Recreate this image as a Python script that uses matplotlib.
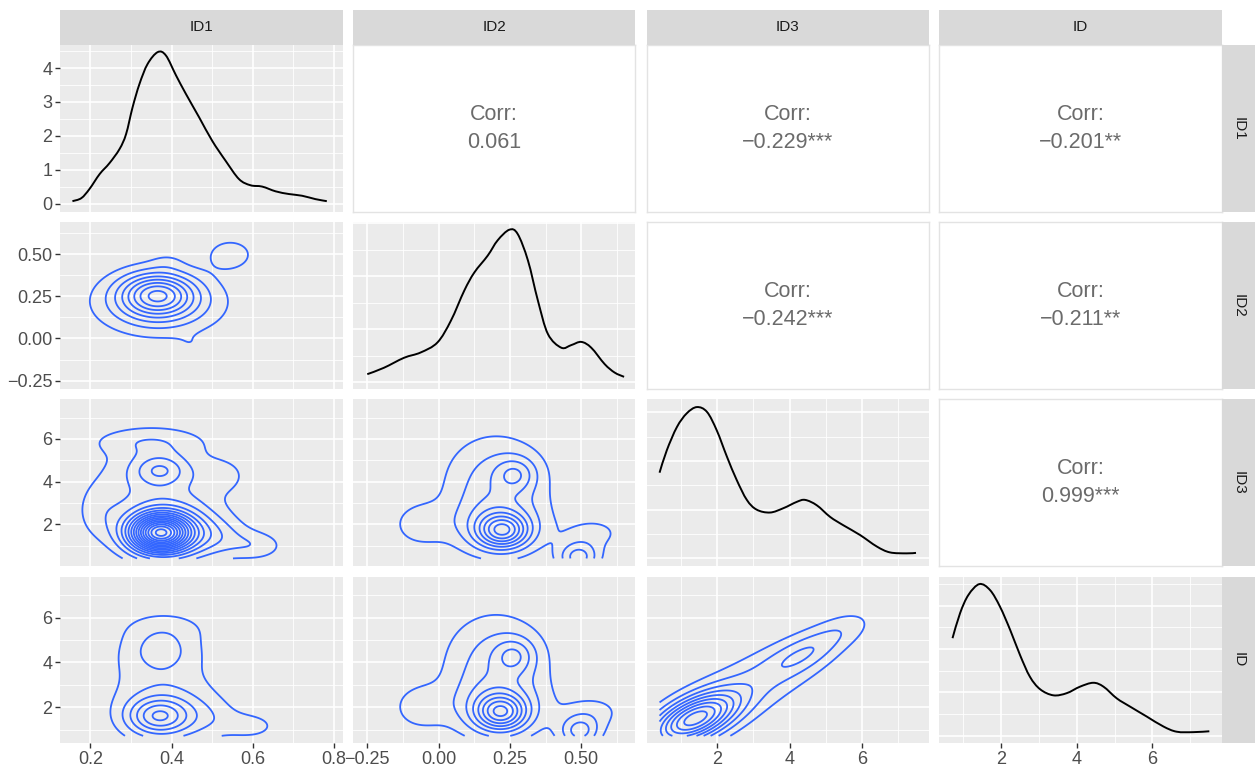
import numpy as np
import matplotlib
matplotlib.use("Agg")
import matplotlib.pyplot as plt
from matplotlib.path import Path
from matplotlib.patches import PathPatch

plt.rcParams['font.family'] = ['Liberation Sans', 'DejaVu Sans']

W, H = 1255, 772

# variables and their data ranges (axes get 5% expansion like ggplot)
names = ["ID1", "ID2", "ID3", "ID"]
data_ranges = [(0.157, 0.789), (-0.255, 0.645), (0.41, 7.50), (0.72, 7.49)]
major_breaks = [[0.2, 0.4, 0.6, 0.8], [-0.25, 0.0, 0.25, 0.5], [2, 4, 6], [2, 4, 6]]
break_labels = [["0.2", "0.4", "0.6", "0.8"], ["\u22120.25", "0.00", "0.25", "0.50"],
                ["2", "4", "6"], ["2", "4", "6"]]
minor_breaks = [[0.3, 0.5, 0.7], [-0.125, 0.125, 0.375, 0.625], [1, 3, 5, 7], [1, 3, 5, 7]]

# diagonal density curves
id1_dens_x = [0.156, 0.178, 0.198, 0.223, 0.247, 0.272, 0.288, 0.304, 0.321, 0.341, 0.366, 0.386,
              0.411, 0.435, 0.468, 0.500, 0.533, 0.566, 0.594, 0.623, 0.656, 0.689, 0.721, 0.754, 0.782]
id1_dens_y = [0.07, 0.16, 0.43, 0.87, 1.19, 1.61, 2.05, 2.84, 3.53, 4.12, 4.47, 4.37,
              3.78, 3.24, 2.54, 1.85, 1.26, 0.72, 0.54, 0.50, 0.36, 0.28, 0.23, 0.13, 0.07]
id2_dens_x = [-0.250, -0.192, -0.121, -0.063, -0.004, 0.043, 0.090, 0.125, 0.172, 0.207, 0.248,
              0.277, 0.313, 0.348, 0.383, 0.430, 0.465, 0.500, 0.535, 0.582, 0.617, 0.650]
id2_dens_y = [0.15, 0.27, 0.46, 0.56, 0.75, 1.16, 1.73, 2.07, 2.39, 2.68, 2.88,
              2.80, 2.30, 1.54, 0.91, 0.65, 0.70, 0.76, 0.65, 0.34, 0.18, 0.10]
id3_dens_x = [0.41, 0.61, 0.89, 1.16, 1.44, 1.72, 1.99, 2.27, 2.54, 2.82, 3.09, 3.46,
              3.83, 4.20, 4.43, 4.75, 5.12, 5.48, 5.94, 6.41, 6.77, 7.23, 7.49]
id3_dens_y = [0.176, 0.222, 0.270, 0.298, 0.311, 0.301, 0.263, 0.209, 0.161, 0.120, 0.100, 0.094,
              0.103, 0.116, 0.120, 0.109, 0.085, 0.068, 0.048, 0.024, 0.012, 0.010, 0.011]
id_dens_x = [0.73, 0.93, 1.15, 1.44, 1.72, 1.98, 2.25, 2.51, 2.77, 3.04, 3.39, 3.74,
             4.09, 4.44, 4.71, 5.06, 5.41, 5.85, 6.29, 6.64, 7.08, 7.50]
id_dens_y = [0.225, 0.283, 0.325, 0.350, 0.336, 0.298, 0.244, 0.186, 0.136, 0.107, 0.093, 0.098,
             0.113, 0.122, 0.113, 0.086, 0.067, 0.044, 0.021, 0.009, 0.008, 0.010]
diag_curves = [(id1_dens_x, id1_dens_y), (id2_dens_x, id2_dens_y),
               (id3_dens_x, id3_dens_y), (id_dens_x, id_dens_y)]
diag_ylims = [(-0.25, 4.67), (-0.13, 3.02), (-0.016, 0.327), (-0.018, 0.367)]
diag_step = [1, 1, 0.1, 0.1]

# correlation labels of the upper triangle
corr_text = {(0, 1): "0.061", (0, 2): "\u22120.229***", (0, 3): "\u22120.201**",
             (1, 2): "\u22120.242***", (1, 3): "\u22120.211**", (2, 3): "0.999***"}

# 2d density bumps seen in the lower panels: (x, y, sd_x, sd_y, rho, height)
# heights are in units of one contour step
bumps_id2_id1 = [(0.365, 0.26, 0.06, 0.085, 0.0, 5.6),
                 (0.37, 0.21, 0.11, 0.135, 0.0, 3.0),
                 (0.545, 0.50, 0.04, 0.065, 0.0, 1.7),
                 (0.39, 0.46, 0.03, 0.04, 0.0, 0.5),
                 (0.45, -0.04, 0.03, 0.04, 0.0, 0.5)]
bumps_id3_id1 = [(0.37, 1.6, 0.05, 0.6, 0.0, 12.0),
                 (0.41, 1.6, 0.08, 0.9, 0.0, 4.0),
                 (0.372, 4.55, 0.045, 0.5, 0.0, 2.4),
                 (0.36, 3.8, 0.11, 1.7, 0.0, 2.0),
                 (0.34, 5.9, 0.10, 0.45, 0.0, 1.1),
                 (0.61, 1.0, 0.05, 0.5, 0.0, 1.5),
                 (0.52, 1.4, 0.05, 0.6, 0.0, 1.0),
                 (0.22, 2.5, 0.04, 0.9, 0.0, 0.9),
                 (0.53, 4.3, 0.045, 0.6, 0.0, 0.9)]
bumps_id_id1 = [(0.366, 1.58, 0.05, 0.55, 0.0, 3.8),
                (0.40, 1.6, 0.085, 0.9, 0.0, 2.0),
                (0.374, 4.55, 0.05, 0.6, 0.0, 1.3),
                (0.37, 3.8, 0.105, 1.7, 0.0, 1.4),
                (0.39, 5.6, 0.08, 0.5, 0.0, 0.6),
                (0.60, 1.15, 0.05, 0.45, 0.0, 1.2),
                (0.50, 1.5, 0.05, 0.6, 0.0, 0.6)]
bumps_id3_id2 = [(0.225, 1.7, 0.06, 0.55, 0.0, 5.6),
                 (0.20, 1.9, 0.12, 1.0, 0.0, 2.2),
                 (0.27, 4.35, 0.05, 0.55, 0.0, 2.2),
                 (0.20, 4.0, 0.13, 1.6, 0.0, 2.4),
                 (0.49, 0.45, 0.05, 0.5, 0.0, 3.3),
                 (0.55, 1.6, 0.08, 0.6, 0.0, 1.2),
                 (-0.07, 2.0, 0.065, 0.7, 0.0, 1.5)]
bumps_id_id2 = [(0.219, 1.76, 0.06, 0.55, 0.0, 5.4),
                (0.20, 1.95, 0.12, 1.0, 0.0, 2.2),
                (0.266, 4.3, 0.05, 0.55, 0.0, 2.2),
                (0.20, 4.0, 0.13, 1.6, 0.0, 2.4),
                (0.494, 0.9, 0.05, 0.5, 0.0, 3.1),
                (0.55, 1.8, 0.08, 0.6, 0.0, 1.2),
                (-0.07, 2.0, 0.065, 0.7, 0.0, 1.5)]
bumps_id_id3 = [(1.35, 1.45, 0.8, 0.8, 0.55, 8.5),
                (2.9, 2.95, 1.52, 1.52, 0.72, 2.0),
                (4.45, 4.45, 0.775, 0.775, 0.667, 2.0),
                (5.6, 5.6, 0.587, 0.587, 0.42, 0.8)]
lower_bumps = {(1, 0): bumps_id2_id1, (2, 0): bumps_id3_id1, (3, 0): bumps_id_id1,
               (2, 1): bumps_id3_id2, (3, 1): bumps_id_id2, (3, 2): bumps_id_id3}


def expand(lo, hi, f=0.05):
    d = (hi - lo) * f
    return lo - d, hi + d


def surface(X, Y, bumps):
    Z = np.zeros_like(X)
    for mx, my, sx, sy, rho, h in bumps:
        dx = (X - mx) / sx
        dy = (Y - my) / sy
        q = (dx * dx - 2 * rho * dx * dy + dy * dy) / (1 - rho * rho)
        Z += h * np.exp(-q / 2)
    return Z


def smooth_path(xs, ys):
    # draw a smooth line through the read points (catmull-rom as bezier)
    pts = np.column_stack([xs, ys])
    verts = [pts[0]]
    codes = [Path.MOVETO]
    n = len(pts)
    for i in range(n - 1):
        p0 = pts[max(i - 1, 0)]
        p1 = pts[i]
        p2 = pts[i + 1]
        p3 = pts[min(i + 2, n - 1)]
        verts += [p1 + (p2 - p0) / 6, p2 - (p3 - p1) / 6, p2]
        codes += [Path.CURVE4] * 3
    return Path(verts, codes)


def rect(x, y, w, h):
    return [x / W, 1 - (y + h) / H, w / W, h / H]


col_x = [60, 353, 646.7, 939.3]
col_w = 282.5
row_y = [45.3, 222.3, 399.3, 576.7]
row_h = 166.7

fig = plt.figure(figsize=(W / 100, H / 100), dpi=100)

for r in range(4):
    for c in range(4):
        ax = fig.add_axes(rect(col_x[c], row_y[r], col_w, row_h))
        if c > r:
            # upper triangle: correlation text
            ax.set_facecolor("white")
            for s in ax.spines.values():
                s.set_color("#E3E3E3")
                s.set_linewidth(1)
            ax.set_xticks([])
            ax.set_yticks([])
            ax.text(0.5, 0.5, "Corr:\n" + corr_text[(r, c)], transform=ax.transAxes,
                    ha="center", va="center", fontsize=15.5, color="#6b6b6b", linespacing=1.45)
            continue

        ax.set_facecolor("#EBEBEB")
        for s in ax.spines.values():
            s.set_visible(False)
        ax.set_axisbelow(True)
        ax.set_xlim(*expand(*data_ranges[c]))
        ax.set_xticks(major_breaks[c])
        ax.set_xticks(minor_breaks[c], minor=True)

        if r == c:
            xs, ys = diag_curves[r]
            ax.add_patch(PathPatch(smooth_path(xs, ys), facecolor="none", edgecolor="black", lw=1.4))
            ylo, yhi = diag_ylims[r]
            ax.set_ylim(ylo, yhi)
            st = diag_step[r]
            k0 = int(np.ceil(ylo / st * 2))
            k1 = int(np.floor(yhi / st * 2))
            ax.set_yticks([k * st / 2 for k in range(k0, k1 + 1) if k % 2 == 0])
            ax.set_yticks([k * st / 2 for k in range(k0, k1 + 1) if k % 2 != 0], minor=True)
            if r == 0:
                ax.set_yticklabels([f"{v:g}" for v in ax.get_yticks()])
        else:
            xr = data_ranges[c]
            yr = data_ranges[r]
            gx = np.linspace(xr[0], xr[1], 240)
            gy = np.linspace(yr[0], yr[1], 240)
            X, Y = np.meshgrid(gx, gy)
            Z = surface(X, Y, lower_bumps[(r, c)])
            levels = np.arange(1, np.floor(Z.max()) + 1)
            ax.contour(X, Y, Z, levels=levels, colors="#3366FF", linewidths=1.3)
            ax.set_ylim(*expand(*yr))
            ax.set_yticks(major_breaks[r])
            ax.set_yticks(minor_breaks[r], minor=True)
            ax.set_yticklabels(break_labels[r])

        ax.set_xticklabels(break_labels[c])
        ax.grid(which="major", color="white", lw=1.2)
        ax.grid(which="minor", color="white", lw=0.6)
        ax.tick_params(which="minor", length=0)
        ax.tick_params(which="major", direction="out", length=3.5, width=1, color="#333333",
                       labelsize=13, labelcolor="#4D4D4D", pad=2)
        if c != 0:
            ax.tick_params(axis="y", which="major", length=0, labelleft=False)
        if r != 3:
            ax.tick_params(axis="x", which="major", length=0, labelbottom=False)

# facet strips
for c in range(4):
    sax = fig.add_axes(rect(col_x[c], 9.5, col_w, 35.3))
    sax.set_facecolor("#D9D9D9")
    sax.set_xticks([])
    sax.set_yticks([])
    for s in sax.spines.values():
        s.set_visible(False)
    sax.text(0.5, 0.5, names[c], transform=sax.transAxes, ha="center", va="center",
             fontsize=11, color="#1A1A1A")
for r in range(4):
    sax = fig.add_axes(rect(1221.8, row_y[r], 33.2, row_h))
    sax.set_facecolor("#D9D9D9")
    sax.set_xticks([])
    sax.set_yticks([])
    for s in sax.spines.values():
        s.set_visible(False)
    sax.text(0.5, 0.5, names[r], transform=sax.transAxes, ha="center", va="center",
             fontsize=11, color="#1A1A1A", rotation=-90)

fig.savefig("out.png", dpi=100)
